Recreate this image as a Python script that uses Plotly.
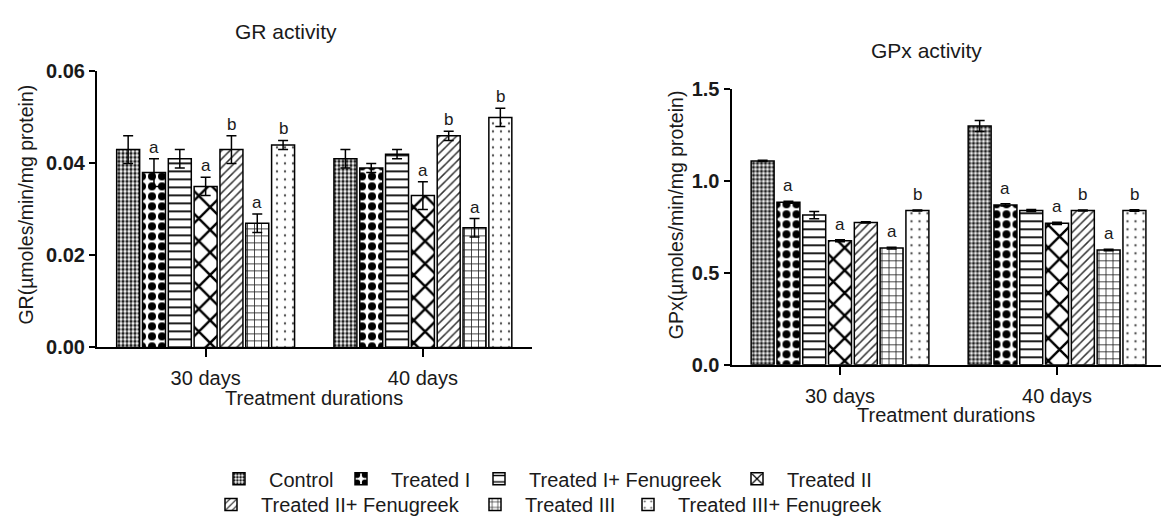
import plotly.graph_objects as go

# ---------------- data ----------------
durations = ["30 days", "40 days"]
series_names = ["Control", "Treated I", "Treated I+ Fenugreek", "Treated II",
                "Treated II+ Fenugreek", "Treated III", "Treated III+ Fenugreek"]

gr_mean_30 = [0.043, 0.038, 0.041, 0.035, 0.043, 0.027, 0.044]
gr_err_30 = [0.003, 0.003, 0.002, 0.002, 0.003, 0.002, 0.001]
gr_sig_30 = ["", "a", "", "a", "b", "a", "b"]
gr_mean_40 = [0.041, 0.039, 0.042, 0.033, 0.046, 0.026, 0.050]
gr_err_40 = [0.002, 0.001, 0.001, 0.003, 0.001, 0.002, 0.002]
gr_sig_40 = ["", "", "", "a", "b", "a", "b"]

gpx_mean_30 = [1.11, 0.885, 0.815, 0.675, 0.775, 0.635, 0.84]
gpx_err_30 = [0.003, 0.005, 0.02, 0.005, 0.003, 0.005, 0.003]
gpx_sig_30 = ["", "a", "", "a", "", "a", "b"]
gpx_mean_40 = [1.30, 0.87, 0.84, 0.77, 0.84, 0.625, 0.84]
gpx_err_40 = [0.03, 0.006, 0.005, 0.006, 0.003, 0.004, 0.004]
gpx_sig_40 = ["", "a", "", "a", "b", "a", "b"]

gr_ticks = [0, 0.02, 0.04, 0.06]
gpx_ticks = [0, 0.5, 1.0, 1.5]

# ---------------- styles ----------------
W, H = 1161, 530
FONT = "Liberation Sans, Arial, sans-serif"
TXT = "#1a1a1a"
BARGAP = 0.168
patterns = [
    dict(shape=".", size=4, solidity=0.55, fgcolor="#222"),
    dict(shape=".", size=10, solidity=0.5, fgcolor="black"),
    dict(shape="-", size=8, solidity=0.22, fgcolor="black"),
    dict(shape="x", size=16, solidity=0.28, fgcolor="black"),
    dict(shape="/", size=6, solidity=0.25, fgcolor="#333"),
    dict(shape="+", size=7, solidity=0.22, fgcolor="#222"),
    dict(shape=".", size=8, solidity=0.07, fgcolor="#555"),
]
# legend entry placement: (text start x px, row centre y px)
legend_pos = [(269, 488), (391, 488), (529, 488), (787, 488),
              (261, 515), (525, 515), (678, 515)]
ITEMW = 50

fig = go.Figure()

charts = [
    ("x", "y", gr_mean_30, gr_mean_40, gr_err_30, gr_err_40, gr_sig_30, gr_sig_40, True, 0),
    ("x2", "y2", gpx_mean_30, gpx_mean_40, gpx_err_30, gpx_err_40, gpx_sig_30, gpx_sig_40, False, 4),
]

def px(x):
    return x / W

def py(y):
    return 1 - y / H

annotations = []
for xa, ya, m30, m40, e30, e40, s30, s40, show, yshift in charts:
    for i, name in enumerate(series_names):
        p = patterns[i]
        fig.add_trace(go.Bar(
            x=durations, y=[m30[i], m40[i]], name=name,
            xaxis=xa, yaxis=ya, showlegend=show,
            legend="legend" if i == 0 else f"legend{i + 1}",
            legendgroup=name,
            error_y=dict(type="data", array=[e30[i], e40[i]], color="black",
                         thickness=1.5, width=5),
            marker=dict(color="white", line=dict(color="black", width=1.5),
                        pattern=dict(shape=p["shape"], size=p["size"],
                                     solidity=p["solidity"], fgcolor=p["fgcolor"],
                                     bgcolor="white", fillmode="replace")),
        ))
        for gi, (m, e, s) in enumerate([(m30[i], e30[i], s30[i]), (m40[i], e40[i], s40[i])]):
            if s:
                annotations.append(dict(
                    x=gi + (i - 3) * (1 - BARGAP) / 7, y=m + e, xref=xa, yref=ya,
                    text=s, showarrow=False, yanchor="bottom", yshift=yshift,
                    font=dict(size=17, color=TXT, family=FONT)))

texts = [
    ("GR activity", 286, 21, 21, 0),
    ("GPx activity", 926, 41, 21, 0),
    ("GR(µmoles/min/mg protein)", 26, 202, 19.5, -90),
    ("GPx(µmoles/min/mg protein)", 676, 213, 19.5, -90),
    ("Treatment durations", 314, 404, 20, 0),
    ("Treatment durations", 946, 422, 20, 0),
]
for t, x, y, s, ang in texts:
    annotations.append(dict(x=px(x), y=py(y), xref="paper", yref="paper", text=t,
                            showarrow=False, xanchor="center", yanchor="middle",
                            textangle=ang, font=dict(size=s, color=TXT, family=FONT)))

xcommon = dict(type="category", showline=True, linecolor="black", linewidth=2,
               ticks="outside", ticklen=8, tickwidth=2, tickcolor="black",
               showgrid=False, zeroline=False, ticklabelstandoff=4,
               tickfont=dict(size=20, color=TXT, family=FONT), fixedrange=True)
ycommon = dict(showline=True, linecolor="black", linewidth=2, ticks="outside",
               ticklen=6, tickwidth=2, tickcolor="black", showgrid=False,
               zeroline=False, fixedrange=True,
               tickfont=dict(size=20, color=TXT, family=FONT, weight="bold"))

layout_legends = {}
for i, (tx, ty) in enumerate(legend_pos):
    key = "legend" if i == 0 else f"legend{i + 1}"
    layout_legends[key] = dict(
        orientation="h", x=px(tx - ITEMW - 10), y=py(ty), xanchor="left", yanchor="middle",
        font=dict(size=20, color=TXT, family=FONT), bgcolor="rgba(0,0,0,0)",
        itemwidth=ITEMW, borderwidth=0)

fig.update_layout(
    width=W, height=H, margin=dict(l=0, r=0, t=0, b=0),
    paper_bgcolor="white", plot_bgcolor="white",
    barmode="group", bargap=BARGAP, bargroupgap=0.11,
    font=dict(family=FONT, color=TXT),
    xaxis=dict(xcommon, domain=[px(97), px(531.5)], range=[-0.5, 1.5], anchor="y"),
    yaxis=dict(ycommon, domain=[py(351), py(63)], range=[0, 0.06],
               tickvals=gr_ticks, tickformat=".2f", anchor="x"),
    xaxis2=dict(xcommon, domain=[px(731.5), 1.0], range=[-0.5, 1.479], anchor="y2"),
    yaxis2=dict(ycommon, domain=[py(369), py(81.7)], range=[0, 1.5],
                tickvals=gpx_ticks, tickformat=".1f", anchor="x2"),
    annotations=annotations,
    **layout_legends,
)

fig.write_html("out.html", config={"displayModeBar": False},
               post_script="document.body.style.margin='0';document.body.style.overflow='hidden';")
